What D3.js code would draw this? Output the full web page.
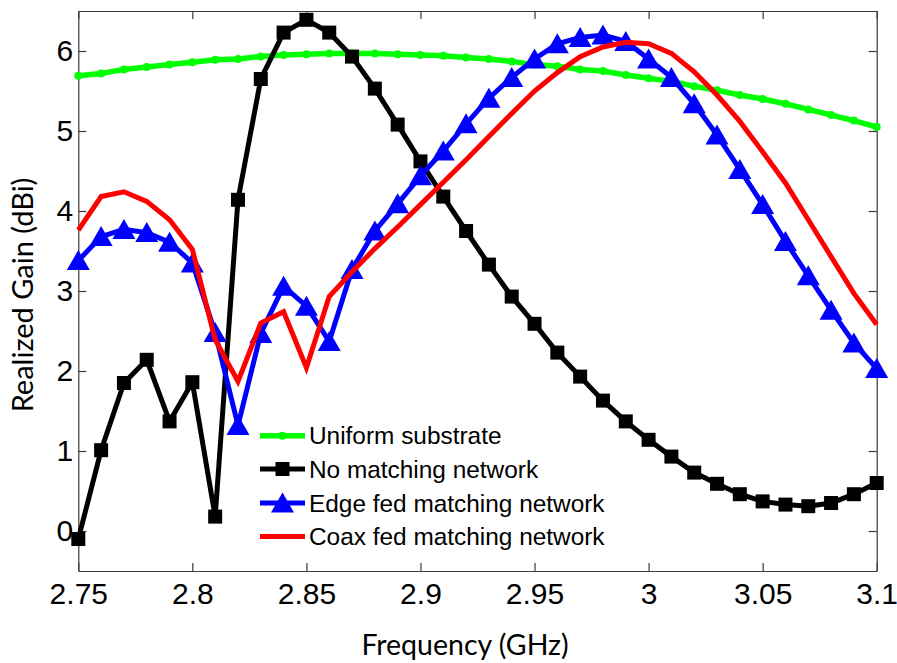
<!DOCTYPE html>
<html>
<head>
<meta charset="utf-8">
<script src="https://cdn.jsdelivr.net/npm/d3@7"></script>
<style>
  body { margin: 0; background: #fff; }
  svg { display: block; }
</style>
</head>
<body>
<svg id="chart" width="897" height="663"></svg>
<script>
// Frequency sweep (GHz)
const freq = [2.75, 2.76, 2.77, 2.78, 2.79, 2.80, 2.81, 2.82, 2.83, 2.84,
              2.85, 2.86, 2.87, 2.88, 2.89, 2.90, 2.91, 2.92, 2.93, 2.94,
              2.95, 2.96, 2.97, 2.98, 2.99, 3.00, 3.01, 3.02, 3.03, 3.04,
              3.05, 3.06, 3.07, 3.08, 3.09, 3.10];

// Realized gain (dBi) per configuration
const uniformSubstrate = [5.69, 5.72, 5.77, 5.80, 5.83, 5.86, 5.89, 5.90, 5.93, 5.95,
                          5.96, 5.97, 5.97, 5.97, 5.96, 5.95, 5.94, 5.92, 5.90, 5.87,
                          5.83, 5.81, 5.77, 5.75, 5.70, 5.66, 5.62, 5.56, 5.51, 5.45,
                          5.40, 5.34, 5.27, 5.20, 5.13, 5.05];
const noMatching = [-0.10, 1.01, 1.85, 2.14, 1.37, 1.86, 0.18, 4.14, 5.65, 6.23,
                    6.39, 6.23, 5.93, 5.53, 5.08, 4.62, 4.18, 3.75, 3.33, 2.93,
                    2.59, 2.23, 1.93, 1.63, 1.37, 1.14, 0.93, 0.73, 0.59, 0.46,
                    0.37, 0.33, 0.31, 0.35, 0.46, 0.60];
const edgeFed = [3.38, 3.68, 3.77, 3.73, 3.61, 3.35, 2.48, 1.32, 2.47, 3.06,
                 2.81, 2.37, 3.27, 3.75, 4.09, 4.44, 4.75, 5.09, 5.41, 5.67,
                 5.90, 6.09, 6.17, 6.20, 6.12, 5.90, 5.67, 5.34, 4.95, 4.52,
                 4.08, 3.62, 3.19, 2.76, 2.35, 2.03];
const coaxFed = [3.76, 4.18, 4.24, 4.12, 3.89, 3.52, 2.39, 1.87, 2.60, 2.74,
                 2.04, 2.93, 3.24, 3.53, 3.80, 4.08, 4.36, 4.64, 4.93, 5.22,
                 5.50, 5.73, 5.93, 6.05, 6.11, 6.09, 5.97, 5.74, 5.45, 5.12,
                 4.74, 4.35, 3.89, 3.43, 2.97, 2.58];

const seriesNames = ["Uniform substrate", "No matching network",
                     "Edge fed matching network", "Coax fed matching network"];
const xTickValues = [2.75, 2.8, 2.85, 2.9, 2.95, 3, 3.05, 3.1];
const yTickValues = [0, 1, 2, 3, 4, 5, 6];
const xLabel = "Frequency (GHz)";
const yLabel = "Realized Gain (dBi)";

const series = [
  { name: seriesNames[0], values: uniformSubstrate, color: "#00ff00", marker: "dot",      width: 5.5 },
  { name: seriesNames[1], values: noMatching,       color: "#000000", marker: "square",   width: 5 },
  { name: seriesNames[2], values: edgeFed,          color: "#0000ff", marker: "triangle", width: 5 },
  { name: seriesNames[3], values: coaxFed,          color: "#ff0000", marker: "none",     width: 5 }
];

const svg = d3.select("#chart");
const plot = { left: 78.3, right: 876.7, top: 11, bottom: 571 };

const x = d3.scaleLinear().domain([2.75, 3.1]).range([plot.left, plot.right]);
const y = d3.scaleLinear().domain([-0.5, 6.5]).range([plot.bottom, plot.top]);

const axisColor = "#3a3a3a";
const tickFont = "'Liberation Sans', Arial, sans-serif";
const labelFont = "Lato, 'Open Sans', sans-serif";

// Frame with inward ticks on all four sides
function styleAxis(g) {
  g.select(".domain").attr("stroke", axisColor).attr("stroke-width", 1.2);
  g.selectAll(".tick line").attr("stroke", axisColor).attr("stroke-width", 1.2);
  g.selectAll(".tick text")
    .attr("fill", "#000")
    .style("font-family", tickFont)
    .style("font-size", "30px");
}
const fmt = d => String(+d.toFixed(2));

svg.append("g").attr("transform", `translate(0,${plot.bottom})`)
  .call(d3.axisBottom(x).tickValues(xTickValues).tickFormat(fmt).tickSizeInner(-8).tickSizeOuter(0).tickPadding(12))
  .call(styleAxis);
svg.append("g").attr("transform", `translate(0,${plot.top})`)
  .call(d3.axisTop(x).tickValues(xTickValues).tickFormat("").tickSizeInner(-8).tickSizeOuter(0))
  .call(styleAxis);
svg.append("g").attr("transform", `translate(${plot.left},0)`)
  .call(d3.axisLeft(y).tickValues(yTickValues).tickFormat(d3.format("d")).tickSizeInner(-8).tickSizeOuter(0).tickPadding(5))
  .call(styleAxis);
svg.append("g").attr("transform", `translate(${plot.right},0)`)
  .call(d3.axisRight(y).tickValues(yTickValues).tickFormat("").tickSizeInner(-8).tickSizeOuter(0))
  .call(styleAxis);

// Axis titles
svg.append("text")
  .attr("x", 465).attr("y", 655)
  .attr("text-anchor", "middle")
  .style("font-family", labelFont).style("font-size", "28.5px")
  .attr("fill", "#000")
  .text(xLabel);
svg.append("text")
  .attr("transform", `translate(33,${(plot.top + plot.bottom) / 2 + 4}) rotate(-90)`)
  .attr("text-anchor", "middle")
  .style("font-family", labelFont).style("font-size", "29px")
  .attr("fill", "#000")
  .text(yLabel);

// Marker drawing
function drawMarker(sel, type, color) {
  if (type === "dot") {
    sel.append("circle").attr("r", 4).attr("fill", color);
  } else if (type === "square") {
    sel.append("rect").attr("x", -7).attr("y", -7).attr("width", 14).attr("height", 14).attr("fill", color);
  } else if (type === "triangle") {
    sel.append("path").attr("d", "M0,-10.5L11.5,9.5L-11.5,9.5Z").attr("fill", color);
  }
}

const line = d3.line().x((d, i) => x(freq[i])).y(d => y(d));

series.forEach(s => {
  const g = svg.append("g");
  g.append("path")
    .attr("d", line(s.values))
    .attr("fill", "none")
    .attr("stroke", s.color)
    .attr("stroke-width", s.width)
    .attr("stroke-linejoin", "miter")
    .attr("stroke-miterlimit", 3);
  if (s.marker !== "none") {
    g.selectAll("g.m").data(s.values).join("g")
      .attr("class", "m")
      .attr("transform", (d, i) => `translate(${x(freq[i])},${y(d)})`)
      .each(function () { drawMarker(d3.select(this), s.marker, s.color); });
  }
});

// Legend
const legendRows = [435.7, 469, 503, 536.5];
const legend = svg.append("g");
series.forEach((s, i) => {
  const row = legend.append("g").attr("transform", `translate(0,${legendRows[i]})`);
  row.append("line").attr("x1", 260).attr("x2", 305).attr("y1", 0).attr("y2", 0)
    .attr("stroke", s.color).attr("stroke-width", s.width);
  const m = row.append("g").attr("transform", "translate(282.5,0)");
  drawMarker(m, s.marker, s.color);
  row.append("text").attr("x", 309).attr("y", 0).attr("dy", "0.35em")
    .style("font-family", tickFont).style("font-size", "24.4px")
    .attr("fill", "#000")
    .text(s.name);
});
</script>
</body>
</html>
